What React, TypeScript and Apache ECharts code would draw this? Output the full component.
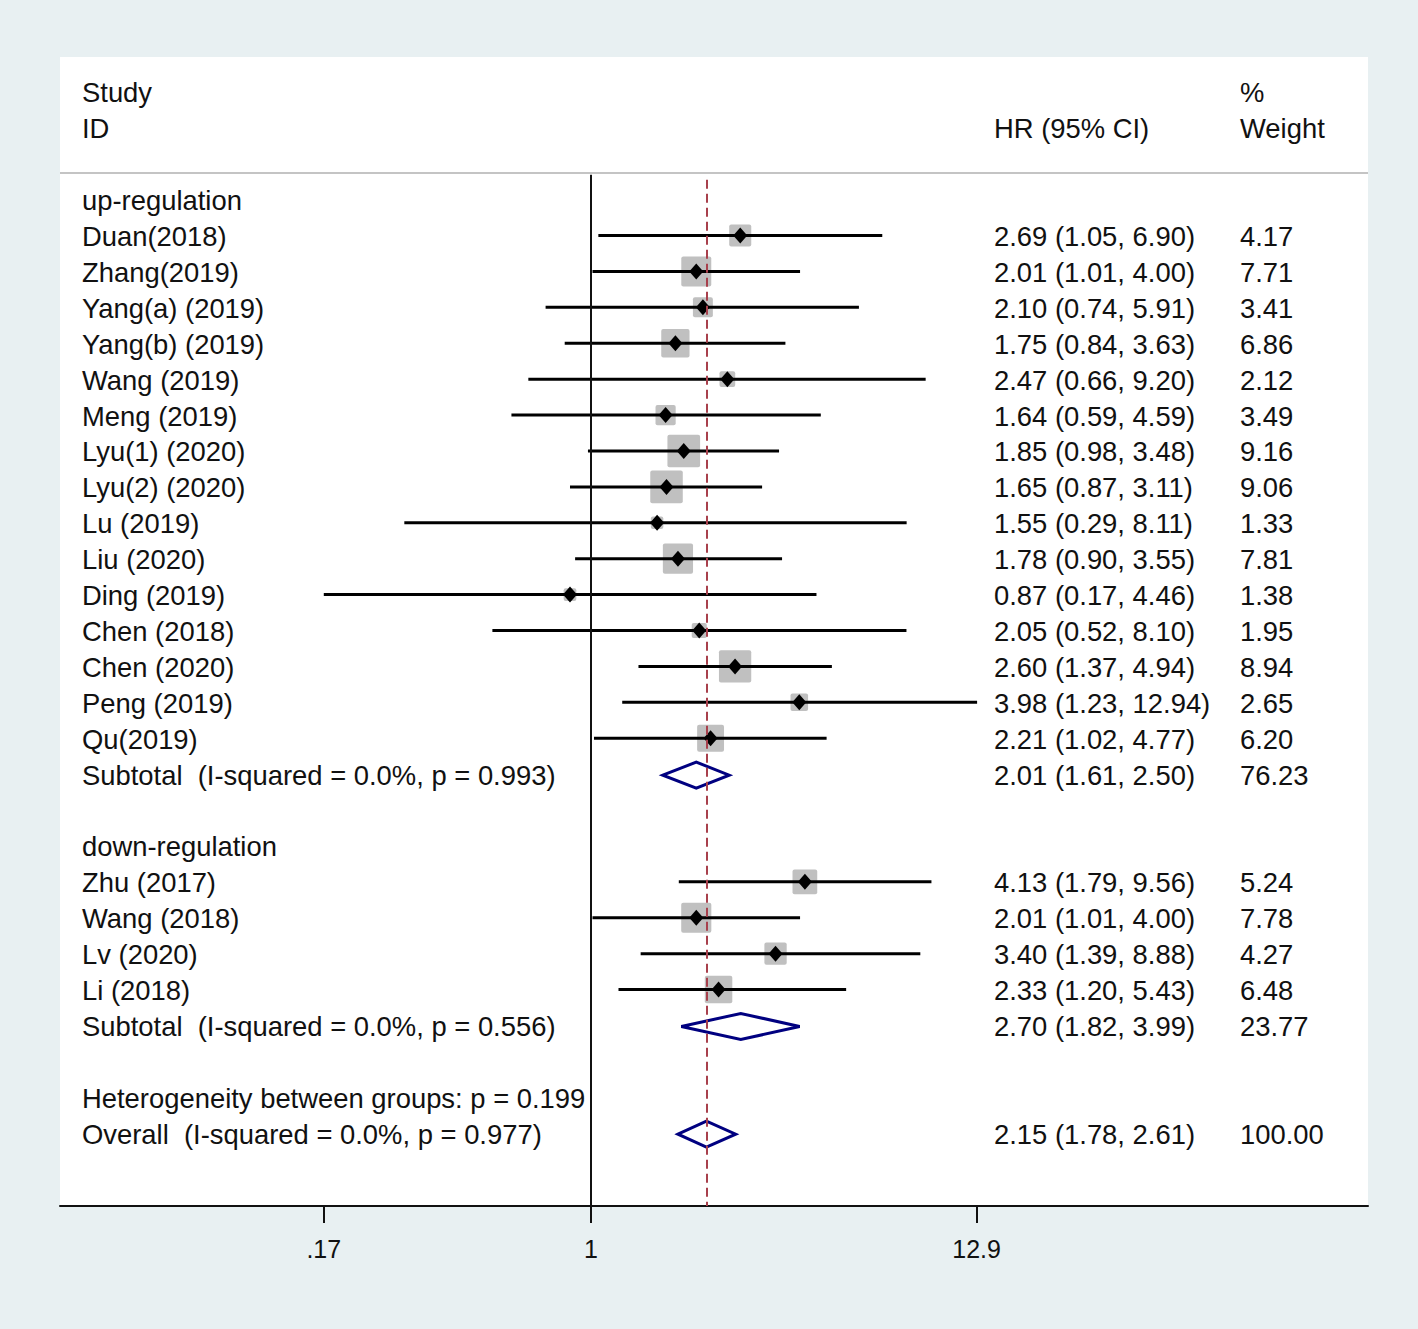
import React, { useEffect, useRef } from "react";
import * as echarts from "echarts";

// ---------- data ----------
const UP_STUDIES = ["Duan(2018)", "Zhang(2019)", "Yang(a) (2019)", "Yang(b) (2019)", "Wang (2019)", "Meng (2019)", "Lyu(1) (2020)", "Lyu(2) (2020)", "Lu (2019)", "Liu (2020)", "Ding (2019)", "Chen (2018)", "Chen (2020)", "Peng (2019)", "Qu(2019)"];
const UP_HR = [2.69, 2.01, 2.10, 1.75, 2.47, 1.64, 1.85, 1.65, 1.55, 1.78, 0.87, 2.05, 2.60, 3.98, 2.21];
const UP_LO = [1.05, 1.01, 0.74, 0.84, 0.66, 0.59, 0.98, 0.87, 0.29, 0.90, 0.17, 0.52, 1.37, 1.23, 1.02];
const UP_HI = [6.90, 4.00, 5.91, 3.63, 9.20, 4.59, 3.48, 3.11, 8.11, 3.55, 4.46, 8.10, 4.94, 12.94, 4.77];
const UP_W = [4.17, 7.71, 3.41, 6.86, 2.12, 3.49, 9.16, 9.06, 1.33, 7.81, 1.38, 1.95, 8.94, 2.65, 6.20];

const DOWN_STUDIES = ["Zhu (2017)", "Wang (2018)", "Lv (2020)", "Li (2018)"];
const DOWN_HR = [4.13, 2.01, 3.40, 2.33];
const DOWN_LO = [1.79, 1.01, 1.39, 1.20];
const DOWN_HI = [9.56, 4.00, 8.88, 5.43];
const DOWN_W = [5.24, 7.78, 4.27, 6.48];

const GROUP_NAMES = ["up-regulation", "down-regulation"];
const SUB_HR = [2.01, 2.70];
const SUB_LO = [1.61, 1.82];
const SUB_HI = [2.50, 3.99];
const SUB_W = [76.23, 23.77];
const SUB_I2 = ["0.0%", "0.0%"];
const SUB_P = ["0.993", "0.556"];

const OVERALL_HR = 2.15;
const OVERALL_LO = 1.78;
const OVERALL_HI = 2.61;
const OVERALL_W = 100.0;
const OVERALL_I2 = "0.0%";
const OVERALL_P = "0.977";
const HET_P = "0.199";

const TICK_VALUES = [0.17, 1, 12.9];
const TICK_LABELS = [".17", "1", "12.9"];

// ---------- layout constants ----------
const XMIN = -3.5212;
const XMAX = 5.1525;
const FONT = "'Liberation Sans', Arial, sans-serif";
const FS = 27.4;
const TXT = "#111111";

type Row = {
  kind: string;
  row: number;
  label: string;
  hr?: number;
  lo?: number;
  hi?: number;
  w?: number;
  c2?: string;
  c3?: string;
};

function ciText(hr: number, lo: number, hi: number) {
  return `${hr.toFixed(2)} (${lo.toFixed(2)}, ${hi.toFixed(2)})`;
}

function buildRows(): Row[] {
  const rows: Row[] = [];
  rows.push({ kind: "header", row: -3, label: "Study", c3: "%" });
  rows.push({ kind: "header", row: -2, label: "ID", c2: "HR (95% CI)", c3: "Weight" });
  let r = 0;
  const groups = [
    [UP_STUDIES, UP_HR, UP_LO, UP_HI, UP_W],
    [DOWN_STUDIES, DOWN_HR, DOWN_LO, DOWN_HI, DOWN_W],
  ] as any[];
  groups.forEach((g, gi) => {
    rows.push({ kind: "group", row: r++, label: GROUP_NAMES[gi] });
    (g[0] as string[]).forEach((name, i) => {
      rows.push({
        kind: "study", row: r++, label: name,
        hr: g[1][i], lo: g[2][i], hi: g[3][i], w: g[4][i],
        c2: ciText(g[1][i], g[2][i], g[3][i]), c3: g[4][i].toFixed(2),
      });
    });
    rows.push({
      kind: "diamond", row: r++,
      label: `Subtotal  (I-squared = ${SUB_I2[gi]}, p = ${SUB_P[gi]})`,
      hr: SUB_HR[gi], lo: SUB_LO[gi], hi: SUB_HI[gi], w: SUB_W[gi],
      c2: ciText(SUB_HR[gi], SUB_LO[gi], SUB_HI[gi]), c3: SUB_W[gi].toFixed(2),
    });
    r++; // blank line
  });
  rows.push({ kind: "text", row: r++, label: `Heterogeneity between groups: p = ${HET_P}` });
  rows.push({
    kind: "diamond", row: r++,
    label: `Overall  (I-squared = ${OVERALL_I2}, p = ${OVERALL_P})`,
    hr: OVERALL_HR, lo: OVERALL_LO, hi: OVERALL_HI, w: OVERALL_W,
    c2: ciText(OVERALL_HR, OVERALL_LO, OVERALL_HI), c3: OVERALL_W.toFixed(2),
  });
  return rows;
}

export default function App() {
  const ref = useRef<HTMLDivElement>(null);

  useEffect(() => {
    document.body.style.margin = "0";
    if (!ref.current) return;
    const chart = echarts.init(ref.current, undefined, { renderer: "svg" });
    const rows = buildRows();
    const ln = Math.log;

    const txt = (x: number, y: number, s: string) => ({
      type: "text",
      x, y,
      style: { text: s, font: `${FS}px ${FONT}`, fill: TXT, verticalAlign: "middle", align: "left" },
    });

    const renderItem = (params: any, api: any) => {
      const row = rows[params.dataIndex];
      const cs = params.coordSys;
      const y = api.coord([0, row.row])[1];
      const children: any[] = [];
      children.push(txt(cs.x + 22, y, row.label));
      if (row.c2) children.push(txt(cs.x + 934, y, row.c2));
      if (row.c3) children.push(txt(cs.x + 1180, y, row.c3));
      if (row.kind === "study") {
        const xl = api.coord([ln(row.lo!), row.row])[0];
        const xh = api.coord([ln(row.hi!), row.row])[0];
        const xc = api.coord([ln(row.hr!), row.row])[0];
        const side = 10.8 * Math.sqrt(row.w!);
        children.unshift({
          type: "rect",
          shape: { x: xc - side / 2, y: y - 1 - side / 2, width: side, height: side, r: 2 },
          style: { fill: "#c0c0c0" },
        });
        children.push({
          type: "line",
          shape: { x1: xl, y1: y - 1, x2: xh, y2: y - 1 },
          style: { stroke: "#000", lineWidth: 3 },
        });
        children.push({
          type: "polygon",
          shape: { points: [[xc - 7, y - 1], [xc, y - 9], [xc + 7, y - 1], [xc, y + 7]] },
          style: { fill: "#000" },
        });
      } else if (row.kind === "diamond") {
        const xl = api.coord([ln(row.lo!), row.row])[0];
        const xh = api.coord([ln(row.hi!), row.row])[0];
        const xc = api.coord([ln(row.hr!), row.row])[0];
        children.push({
          type: "polygon",
          shape: { points: [[xl, y], [xc, y - 13], [xh, y], [xc, y + 13]] },
          style: { fill: "none", stroke: "#000080", lineWidth: 3 },
        });
      }
      return { type: "group", children };
    };

    const tickLn = TICK_VALUES.map((v) => Math.log(v));

    chart.setOption({
      animation: false,
      backgroundColor: "#e8f0f2",
      grid: {
        left: 60, right: 50, top: 57, bottom: 123,
        show: true, backgroundColor: "#ffffff", borderWidth: 0,
      },
      xAxis: {
        type: "value",
        min: XMIN,
        max: XMAX,
        splitLine: { show: false },
        axisLine: { show: true, onZero: false, lineStyle: { color: "#111", width: 2 } },
        axisTick: { show: true, length: 17, customValues: tickLn, lineStyle: { color: "#111", width: 2 } },
        axisLabel: {
          show: true,
          customValues: tickLn,
          margin: 30,
          fontSize: 25,
          fontFamily: FONT,
          color: TXT,
          formatter: (v: number) => {
            let best = 0;
            tickLn.forEach((t, i) => { if (Math.abs(t - v) < Math.abs(tickLn[best] - v)) best = i; });
            return TICK_LABELS[best];
          },
        },
      },
      yAxis: {
        type: "value",
        min: -4,
        max: 28,
        inverse: true,
        show: false,
      },
      series: [
        {
          type: "custom",
          z: 2,
          renderItem,
          data: rows.map((r, i) => [0, r.row, i]),
          encode: { x: 0, y: 1 },
          silent: true,
        },
        {
          type: "scatter",
          z: 5,
          data: [],
          silent: true,
          markLine: {
            silent: true,
            symbol: ["none", "none"],
            label: { show: false },
            data: [
              [
                { coord: [XMIN, -0.77], lineStyle: { color: "#c4c4c4", width: 2, type: "solid" } },
                { coord: [XMAX, -0.77] },
              ],
              [
                { coord: [0, -0.72], lineStyle: { color: "#111", width: 2, type: "solid" } },
                { coord: [0, 28] },
              ],
              [
                { coord: [Math.log(OVERALL_HR), -0.58], lineStyle: { color: "#a8404c", width: 2, type: [9, 5] } },
                { coord: [Math.log(OVERALL_HR), 28] },
              ],
            ],
          },
        },
      ],
    });

    return () => chart.dispose();
  }, []);

  return <div ref={ref} style={{ width: 1418, height: 1329 }} />;
}
